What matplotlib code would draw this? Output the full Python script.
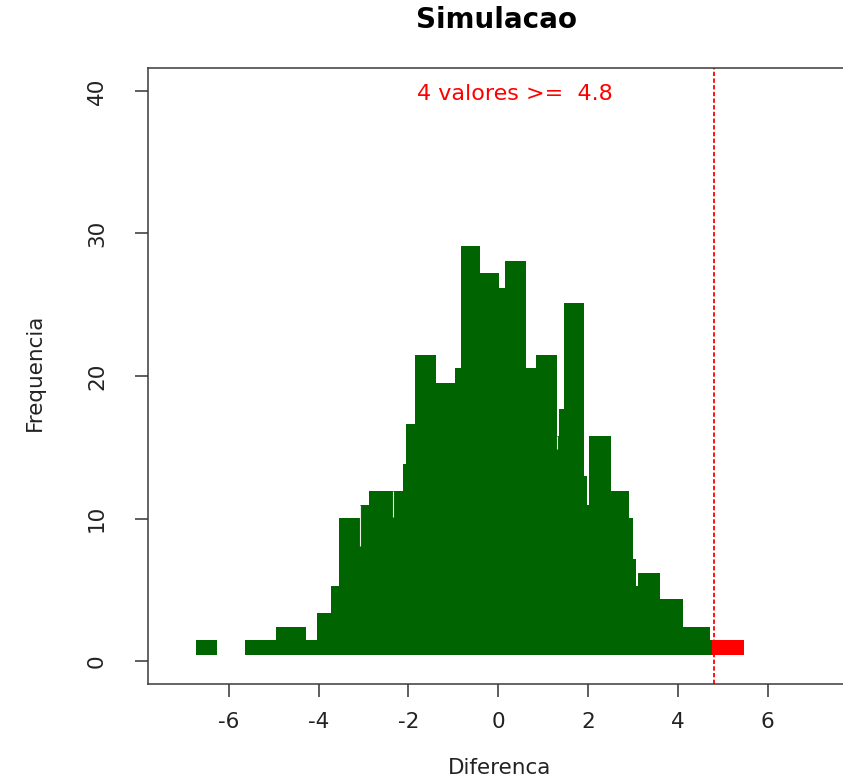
import matplotlib
matplotlib.use("Agg")
import matplotlib.pyplot as plt

plt.rcParams['font.family'] = ['DejaVu Sans']

# Histogram steps of the simulated differences (left edge, right edge, top)
bar_left = [-6.74, -5.65, -4.94, -4.28, -4.04, -3.73, -3.54, -3.09, -2.87, -2.34,
            -2.13, -2.05, -1.85, -1.39, -0.96, -0.84, -0.41, 0.02, 0.14, 0.61,
            0.85, 1.31, 1.35, 1.46, 1.90, 1.98, 2.02, 2.52, 2.91, 3.00,
            3.06, 3.11, 3.61, 4.12, 4.72]
bar_right = [-6.26, -4.94, -4.28, -4.04, -3.73, -3.54, -3.09, -2.87, -2.34, -2.13,
             -2.05, -1.85, -1.39, -0.96, -0.84, -0.41, 0.02, 0.14, 0.61, 0.85,
             1.31, 1.35, 1.46, 1.90, 1.98, 2.02, 2.52, 2.91, 3.00, 3.06,
             3.11, 3.61, 4.12, 4.72, 4.76]
bar_top = [1.49, 1.51, 2.42, 1.51, 3.38, 5.28, 10.04, 10.97, 11.92, 11.92,
           13.85, 16.63, 21.5, 19.54, 20.54, 29.11, 27.19, 26.18, 28.05, 20.56,
           21.5, 15.77, 17.66, 25.15, 12.96, 10.97, 15.77, 11.95, 10.03, 7.18,
           5.25, 6.19, 4.37, 2.42, 1.5]

# Values at or above the observed difference
tail_left = [4.76]
tail_right = [5.48]
tail_top = [1.49]

# Thin light seams where overlapping bars meet (x, lower y, upper y)
seam_x = [-3.09, -2.34, 1.31]
seam_lo = [8.11, 10.1, 14.9]
seam_hi = [10.97, 11.92, 15.77]

base = 0.45
observed = 4.8
n_extreme = 4

x_ticks = [-6, -4, -2, 0, 2, 4, 6]
y_ticks = [0, 10, 20, 30, 40]

fig = plt.figure(figsize=(8.43, 7.79), dpi=100)
ax = fig.add_axes([148 / 843, 1 - 684 / 779, (845 - 148) / 843, (684 - 68) / 779])

ax.bar(bar_left, [t - base for t in bar_top],
       width=[r - l for l, r in zip(bar_left, bar_right)],
       bottom=base, align='edge', color='#006400', linewidth=0)
ax.bar(tail_left, [t - base for t in tail_top],
       width=[r - l for l, r in zip(tail_left, tail_right)],
       bottom=base, align='edge', color='#ff0000', linewidth=0)
ax.vlines(seam_x, seam_lo, seam_hi, colors='#e6eee6', linewidth=0.8)

ax.axvline(observed, color='#ff0000', lw=1.3, dashes=(2.4, 1.3))
ax.text(0.36, 39.8, f"{n_extreme} valores >=  {observed}", color='#ff0000',
        fontsize=16, ha='center', va='center')

ax.set_xlim(-7.80, 7.72)
ax.set_ylim(-1.6, 41.6)
ax.set_xticks(x_ticks)
ax.set_xticklabels([str(v) for v in x_ticks])
ax.set_yticks(y_ticks)
ax.set_yticklabels([str(v) for v in y_ticks], rotation=90, va='center')

for s in ax.spines.values():
    s.set_color('#3a3a3a')
    s.set_linewidth(1.1)

ax.tick_params(axis='both', direction='out', length=9.5, width=1.1,
               color='#333333', labelsize=15.5, labelcolor='#222222')
ax.tick_params(axis='x', pad=11)
ax.tick_params(axis='y', pad=20)

fig.text(496 / 843, 1 - 20 / 779, "Simulacao", fontsize=20, fontweight='bold',
         ha='center', va='center')
fig.text(500 / 843, 1 - 768 / 779, "Diferenca", fontsize=15.5,
         ha='center', va='center', color='#222222')
fig.text(35 / 843, 1 - 372 / 779, "Frequencia", fontsize=15.5, rotation=90,
         ha='center', va='center', color='#222222')

fig.savefig("out.png", dpi=100)
